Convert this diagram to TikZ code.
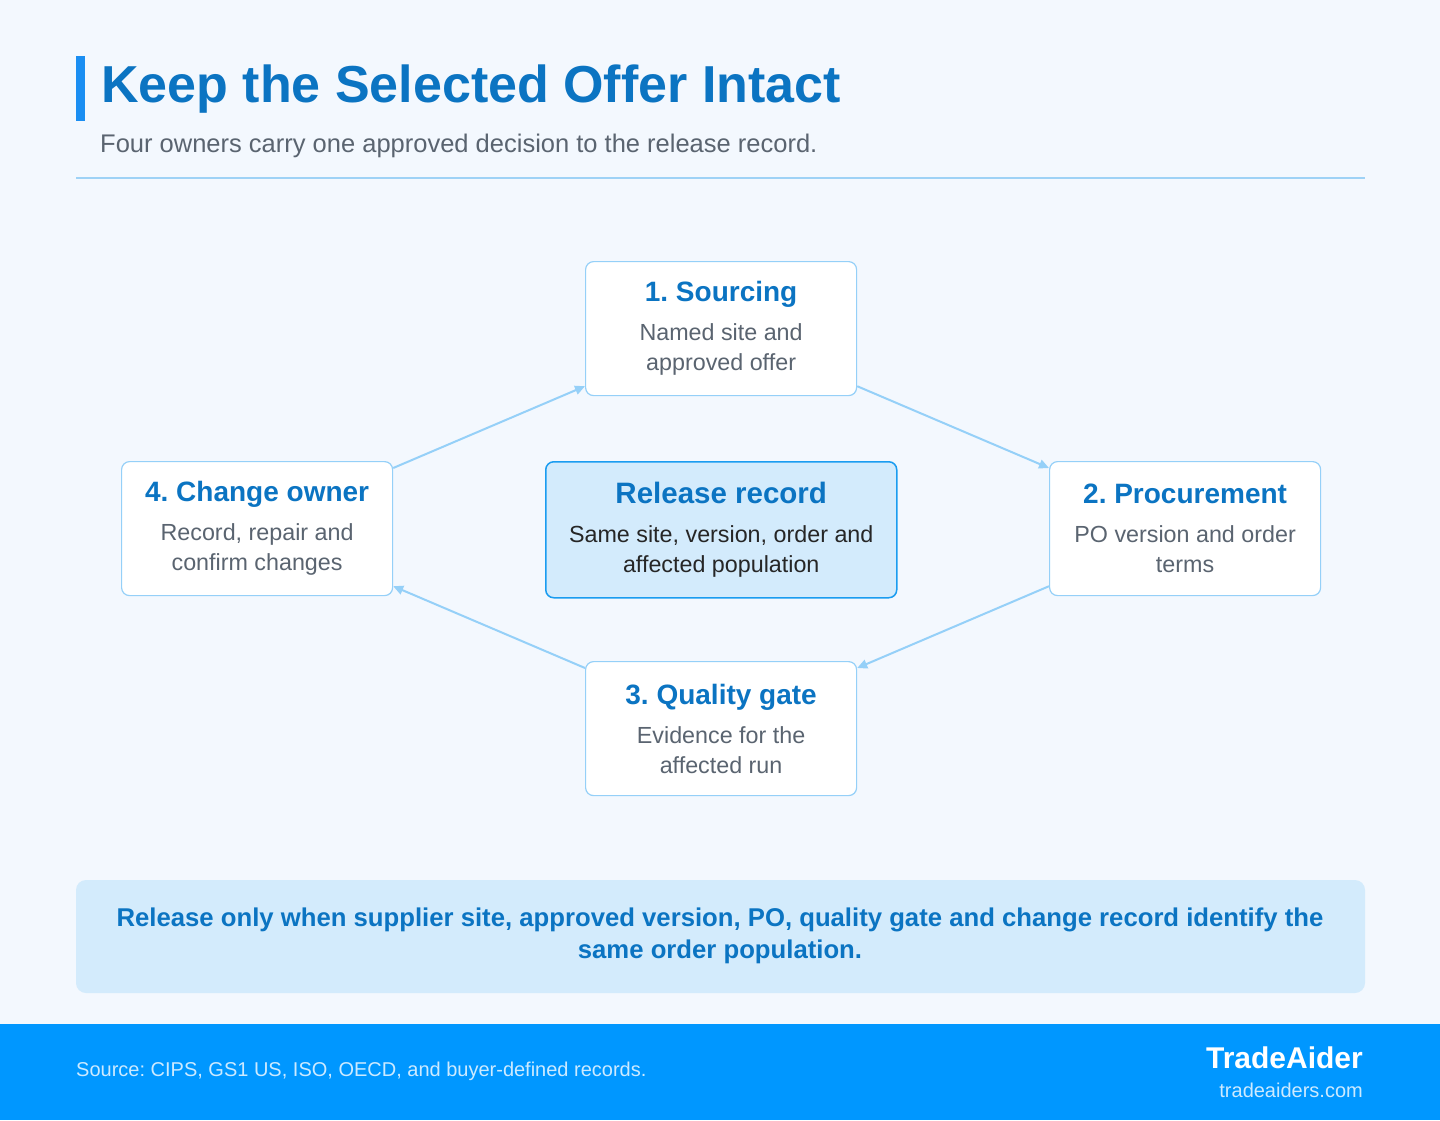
\documentclass[tikz,border=0pt]{standalone}
\usepackage{fontspec}
\setmainfont{Liberation Sans}
\usetikzlibrary{positioning,arrows.meta}
\definecolor{pagebg}{HTML}{F3F8FE}
\definecolor{titleblue}{HTML}{0B74C2}
\definecolor{accent}{HTML}{1A8EF2}
\definecolor{rule}{HTML}{9ED2F6}
\definecolor{edge}{HTML}{95D0F8}
\definecolor{bodygray}{HTML}{5A6470}
\definecolor{softfill}{HTML}{D3EBFC}
\definecolor{strongedge}{HTML}{1A9CF0}
\definecolor{footblue}{HTML}{0097FF}
\frenchspacing
\tikzset{
  owner/.style={draw=edge, line width=1.2pt, fill=white, rounded corners=8pt,
    minimum width=271pt, minimum height=134pt, anchor=north west, align=center,
    text=bodygray, font=\fontsize{23.3}{30}\selectfont},
  hub/.style={owner, draw=strongedge, line width=1.5pt, fill=softfill, text=black!85, minimum width=351pt, minimum height=136pt},
  flow/.style={draw=edge, line width=2pt, -{Triangle[length=10pt,width=9pt]}},
}
\newcommand{\ownertext}[2]{{\fontsize{28}{30}\selectfont\bfseries\color{titleblue}#1}\\[9pt]#2}
\begin{document}
\begin{tikzpicture}[x=1pt,y=-1pt]
\fill[pagebg] (0,0) rectangle (1440,1120);
% header
\fill[accent] (76,56) rectangle (85,121);
\node[anchor=west, inner sep=0pt, text=titleblue, font=\fontsize{52}{56}\selectfont\bfseries] (title) at (101,89) {Keep the Selected Offer Intact};
\node[anchor=west, inner sep=0pt, text=bodygray, font=\fontsize{25.5}{28}\selectfont] (subtitle) at (100,146) {Four owners carry one approved decision to the release record.};
\draw[rule, line width=1.5pt] (76,178) -- (1365,178);
% owners
\node[owner] (sourcing) at (585,261) {\ownertext{1. Sourcing}{Named site and\\approved offer}};
\node[owner] (procure) at (1049,461) {\ownertext{2. Procurement}{PO version and order\\terms}};
\node[owner] (quality) at (585,661) {\ownertext{3. Quality gate}{Evidence for the\\affected run}};
\node[owner] (change) at (121,461) {\ownertext{4. Change owner}{Record, repair and\\confirm changes}};
\node[hub] (release) at (545,461) {{\fontsize{29.5}{30}\selectfont\bfseries\color{titleblue}Release record}\\[9pt]Same site, version, order and\\affected population};
% cycle
\draw[flow] ([yshift=-7pt]change.north east) -- ([yshift=10pt]sourcing.south west);
\draw[flow] ([yshift=10pt]sourcing.south east) -- ([yshift=-7pt]procure.north west);
\draw[flow] ([yshift=10pt]procure.south west) -- ([yshift=-7pt]quality.north east);
\draw[flow] ([yshift=-7pt]quality.north west) -- ([yshift=10pt]change.south east);
% banner
\fill[softfill, rounded corners=10pt] (76,880) rectangle (1365,993);
\node[text=titleblue, align=center, font=\fontsize{25.7}{32}\selectfont\bfseries] (banner) at (720,936) {Release only when supplier site, approved version, PO, quality gate and change record identify the\\same order population.};
% footer
\fill[footblue] (0,1024) rectangle (1440,1120);
\node[anchor=west, inner sep=0pt, text=white!80!footblue, font=\fontsize{20}{22}\selectfont] (source) at (76,1071) {Source: CIPS, GS1 US, ISO, OECD, and buyer-defined records.};
\node[anchor=east, inner sep=0pt, text=white, font=\fontsize{30}{32}\selectfont\bfseries] (brand) at (1363,1058) {TradeAider};
\node[anchor=east, inner sep=0pt, text=white!80!footblue, font=\fontsize{20}{22}\selectfont] (site) at (1363,1090) {tradeaiders.com};
\end{tikzpicture}
\end{document}
